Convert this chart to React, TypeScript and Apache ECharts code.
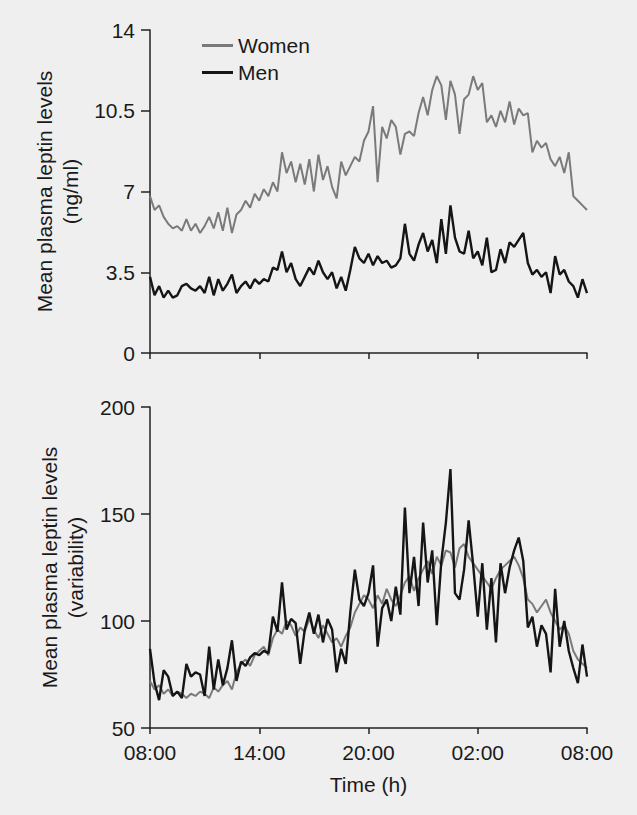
import React, { useEffect, useRef } from "react";
import * as echarts from "echarts";

// sampling: every 15 min from 08:00 (t = 0 h) to 08:00 next day (t = 24 h)
const hourTicks = ["08:00", "14:00", "20:00", "02:00", "08:00"];

const womenLevels = [
  6.8, 6.2, 6.4, 5.9, 5.6, 5.4, 5.5, 5.3, 5.8, 5.3, 5.6, 5.2, 5.5, 5.9, 5.4, 6.1,
  5.3, 6.3, 5.2, 6.0, 6.2, 6.6, 6.3, 6.9, 6.6, 7.1, 6.8, 7.4, 7.0, 8.7, 7.8, 8.3,
  7.4, 8.2, 7.3, 8.4, 7.0, 8.6, 7.5, 8.1, 7.2, 6.7, 8.3, 7.7, 8.1, 8.5, 8.3, 9.2,
  9.6, 10.7, 7.4, 9.8, 9.3, 10.1, 9.8, 8.6, 9.5, 9.6, 9.4, 10.4, 11.1, 10.3, 11.4, 12.0,
  11.6, 10.1, 11.8, 11.2, 9.5, 11.0, 11.2, 12.0, 11.4, 11.7, 10.0, 10.3, 9.8, 10.5, 10.0, 10.9,
  9.9, 10.6, 10.3, 10.4, 8.7, 9.2, 8.9, 9.1, 8.4, 8.1, 8.5, 7.8, 8.7, 6.8, 6.6, 6.4, 6.2,
];

const menLevels = [
  3.3, 2.5, 2.9, 2.4, 2.7, 2.4, 2.5, 2.9, 3.0, 2.8, 2.7, 2.9, 2.6, 3.3, 2.5, 3.2,
  2.7, 3.0, 3.4, 2.6, 2.9, 3.1, 2.8, 3.2, 3.0, 3.2, 3.1, 3.7, 3.6, 4.4, 3.5, 3.9,
  3.2, 2.9, 3.3, 3.7, 3.4, 4.0, 3.5, 3.2, 3.5, 2.8, 3.3, 2.7, 3.6, 4.6, 4.1, 3.9,
  4.3, 3.8, 4.2, 3.9, 4.0, 3.7, 3.8, 4.1, 5.6, 4.3, 4.0, 4.7, 5.2, 4.4, 4.9, 3.9,
  5.8, 4.3, 6.4, 5.0, 4.4, 4.3, 5.3, 4.1, 4.4, 3.8, 5.0, 3.5, 3.6, 4.5, 3.9, 4.8,
  4.6, 4.9, 5.2, 3.9, 3.4, 3.6, 3.3, 3.5, 2.6, 4.2, 3.4, 3.6, 3.1, 2.9, 2.4, 3.2, 2.6,
];

const womenVariability = [
  72, 68, 70, 66, 68, 65, 67, 66, 64, 66, 65, 67, 66, 64, 69, 67,
  70, 72, 68, 76, 80, 82, 79, 84, 86, 88, 84, 92, 96, 94, 100, 98,
  93, 97, 95, 101, 96, 92, 98, 94, 90, 92, 88, 93, 97, 104, 108, 112,
  110, 106, 112, 108, 115, 110, 107, 112, 118, 121, 114, 120, 124, 128, 122, 130,
  126, 133, 132, 125, 134, 136, 130, 127, 124, 121, 118, 115, 120, 124, 126, 128,
  130, 126, 120, 110, 108, 104, 107, 110, 104, 100, 96, 98, 94, 86, 82, 80, 78,
];

const menVariability = [
  87, 71, 63, 77, 74, 65, 67, 64, 80, 74, 76, 75, 65, 88, 68, 82,
  70, 78, 91, 72, 81, 79, 83, 85, 84, 86, 85, 102, 95, 118, 96, 101,
  99, 80, 96, 104, 94, 103, 90, 101, 96, 76, 87, 80, 104, 124, 110, 107,
  113, 126, 88, 106, 110, 100, 116, 103, 153, 113, 130, 107, 146, 118, 133, 98,
  128, 146, 171, 113, 110, 124, 147, 126, 102, 127, 96, 120, 90, 127, 113, 125,
  133, 139, 128, 97, 102, 88, 98, 94, 76, 115, 88, 100, 86, 78, 71, 89, 74,
];

const FONT = "Liberation Sans, Arial, Helvetica, sans-serif";
const TXT = "#1a1a1a";
const WOMEN_COLOR = "#7a7a7a";
const MEN_COLOR = "#151515";

function pairs(vals: number[]) {
  return vals.map((v, i) => [i * 0.25, v]);
}

export default function App() {
  const ref = useRef<HTMLDivElement>(null);
  useEffect(() => {
    if (!ref.current) return;
    const chart = echarts.init(ref.current, undefined, { renderer: "svg" });
    const axisLine = { show: true, lineStyle: { color: "#222", width: 1.5 } };
    const yTick = { show: true, length: 9, lineStyle: { color: "#222", width: 1.5 } };
    const xTick = { show: true, length: 6, lineStyle: { color: "#222", width: 1.5 } };
    const xBase = {
      type: "value",
      min: 0,
      max: 24,
      interval: 6,
      axisLine,
      axisTick: xTick,
      splitLine: { show: false },
    };
    const yName = { fontSize: 21, color: TXT, lineHeight: 26 };
    chart.setOption({
      animation: false,
      backgroundColor: "#efefef",
      textStyle: { fontFamily: FONT },
      legend: {
        orient: "vertical",
        left: 197,
        top: 30,
        itemWidth: 31,
        itemHeight: 3,
        itemGap: 6,
        icon: "rect",
        textStyle: { fontSize: 21, color: TXT, fontFamily: FONT },
        data: ["Women", "Men"],
      },
      grid: [
        { left: 150, right: 50, top: 30, height: 323 },
        { left: 150, right: 50, top: 407, height: 321 },
      ],
      xAxis: [
        { ...xBase, gridIndex: 0, axisLabel: { show: false } },
        {
          ...xBase,
          gridIndex: 1,
          axisLabel: {
            fontSize: 21,
            color: TXT,
            margin: 14,
            formatter: (v: number) => hourTicks[Math.round(v / 6)],
          },
          name: "Time (h)",
          nameLocation: "middle",
          nameGap: 46,
          nameTextStyle: { fontSize: 21, color: TXT },
        },
      ],
      yAxis: [
        {
          type: "value",
          gridIndex: 0,
          min: 0,
          max: 14,
          interval: 3.5,
          axisLine,
          axisTick: yTick,
          splitLine: { show: false },
          axisLabel: { fontSize: 21, color: TXT, margin: 15 },
          name: "Mean plasma leptin levels\n(ng/ml)",
          nameLocation: "middle",
          nameRotate: 90,
          nameGap: 62,
          nameTextStyle: yName,
        },
        {
          type: "value",
          gridIndex: 1,
          min: 50,
          max: 200,
          interval: 50,
          axisLine,
          axisTick: yTick,
          splitLine: { show: false },
          axisLabel: { fontSize: 21, color: TXT, margin: 15 },
          name: "Mean plasma leptin levels\n(variability)",
          nameLocation: "middle",
          nameRotate: 90,
          nameGap: 62,
          nameTextStyle: yName,
        },
      ],
      series: [
        {
          name: "Women",
          type: "line",
          xAxisIndex: 0,
          yAxisIndex: 0,
          symbol: "none",
          data: pairs(womenLevels),
          lineStyle: { color: WOMEN_COLOR, width: 2 },
          itemStyle: { color: WOMEN_COLOR },
        },
        {
          name: "Men",
          type: "line",
          xAxisIndex: 0,
          yAxisIndex: 0,
          symbol: "none",
          data: pairs(menLevels),
          lineStyle: { color: MEN_COLOR, width: 2.4 },
          itemStyle: { color: MEN_COLOR },
        },
        {
          name: "Women",
          type: "line",
          xAxisIndex: 1,
          yAxisIndex: 1,
          symbol: "none",
          data: pairs(womenVariability),
          lineStyle: { color: WOMEN_COLOR, width: 2 },
          itemStyle: { color: WOMEN_COLOR },
        },
        {
          name: "Men",
          type: "line",
          xAxisIndex: 1,
          yAxisIndex: 1,
          symbol: "none",
          data: pairs(menVariability),
          lineStyle: { color: MEN_COLOR, width: 2.4 },
          itemStyle: { color: MEN_COLOR },
        },
      ],
    });
    return () => chart.dispose();
  }, []);
  return (
    <div
      ref={ref}
      style={{ position: "fixed", left: 0, top: 0, width: 637, height: 815 }}
    />
  );
}
